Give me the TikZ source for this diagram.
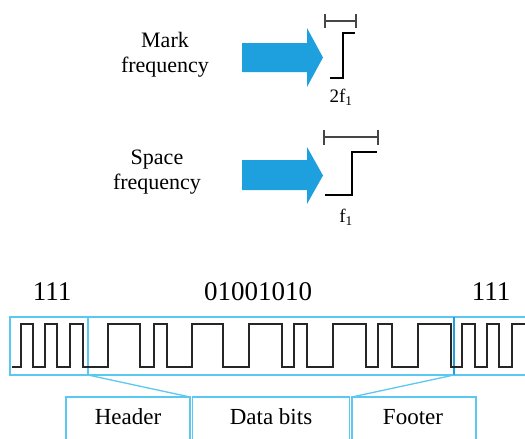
\documentclass[tikz,border=0pt]{standalone}
\usepackage{fontspec}
\setmainfont{Liberation Serif}
\definecolor{arrowblue}{RGB}{30,160,222}
\definecolor{boxcyan}{RGB}{90,200,240}
\definecolor{divblue}{RGB}{30,160,225}
\definecolor{barGray}{RGB}{70,70,70}
\begin{document}
\begin{tikzpicture}[x=1pt,y=-1pt,
  bigarrow/.style={fill=arrowblue,draw=none},
  stepline/.style={line width=2pt,black,line join=miter},
  scalebar/.style={line width=1.1pt,barGray},
  wave/.style={line width=2.2pt,black!85,line join=miter},
  cyanline/.style={line width=1.3pt,boxcyan},
  lbl/.style={font=\fontsize{22}{25}\selectfont,align=center,inner sep=0pt},
  bits/.style={font=\fontsize{27}{30}\selectfont,inner sep=0pt},
  flabel/.style={font=\fontsize{19}{22}\selectfont,inner sep=0pt},
  partlbl/.style={font=\fontsize{23}{26}\selectfont,inner sep=0pt}]
\useasboundingbox (0,0) rectangle (525,439);
\clip (0,0) rectangle (525,439);

% labels
\node[lbl] (mark) at (165,55) {Mark\\frequency};
\node[lbl] (space) at (157,172) {Space\\frequency};

% blue arrows
\fill[bigarrow] (242,43) -- (307,43) -- (307,28) -- (323,57.5) -- (307,87) -- (307,72) -- (242,72) -- cycle;
\fill[bigarrow] (242,160) -- (307,160) -- (307,147) -- (323,175.5) -- (307,204) -- (307,190) -- (242,190) -- cycle;

% mark step
\draw[stepline] (330,78) -- (343,78) -- (343,33) -- (355,33);
\draw[scalebar] (325,21) -- (356,21);
\draw[scalebar] (325,14) -- (325,28);
\draw[scalebar] (356,14) -- (356,28);
\node[flabel] (f2) at (341,97) {2f\textsubscript{1}};

% space step
\draw[stepline] (325,195) -- (352,195) -- (352,152) -- (377,152);
\draw[scalebar] (324,137) -- (378,137);
\draw[scalebar] (324,130) -- (324,145);
\draw[scalebar] (378,130) -- (378,145);
\node[flabel] (f1) at (346,217) {f\textsubscript{1}};

% bit labels
\node[bits] (hb) at (52,292) {111};
\node[bits] (db) at (258,292) {01001010};
\node[bits] (fb) at (491,292) {111};

% waveform frame
\draw[cyanline] (10,317) rectangle (535,375);
\draw[cyanline] (88,317) -- (88,375);
\draw[line width=1.3pt,divblue] (454,317) -- (454,375);
\coordinate (hc) at (88,375);
\coordinate (fc) at (454,375);

% waveform
\draw[wave] (12,367) -- (21,367) -- (21,324) -- (33,324) -- (33,367) -- (45,367) -- (45,324) -- (57,324) -- (57,367) -- (70,367) -- (70,324) -- (83,324) -- (83,367) -- (108,367) -- (108,324) -- (140,324) -- (140,367) -- (154,367) -- (154,324) -- (167,324) -- (167,367) -- (192,367) -- (192,324) -- (223,324) -- (223,367) -- (249,367) -- (249,324) -- (282,324) -- (282,367) -- (294,367) -- (294,324) -- (307,324) -- (307,367) -- (333,367) -- (333,324) -- (366,324) -- (366,367) -- (378,367) -- (378,324) -- (392,324) -- (392,367) -- (418,367) -- (418,324) -- (451,324) -- (451,367) -- (462,367) -- (462,324) -- (475,324) -- (475,367) -- (487,367) -- (487,324) -- (499,324) -- (499,367) -- (512,367) -- (512,324) -- (527,324);

% part boxes
\draw[cyanline] (66,445) -- (66,397) -- (190,397) -- (190,445);
\draw[cyanline] (192.5,445) -- (192.5,397) -- (349.5,397) -- (349.5,445);
\draw[cyanline] (352,445) -- (352,397) -- (476,397) -- (476,445);
\coordinate (hbox) at (190,397);
\coordinate (fbox) at (352,397);
\draw[cyanline] (hc) -- (hbox);
\draw[cyanline] (fc) -- (fbox);
\node[partlbl] (header) at (128,417) {Header};
\node[partlbl] (data) at (271,417) {Data bits};
\node[partlbl] (footer) at (413,417) {Footer};
\end{tikzpicture}
\end{document}
